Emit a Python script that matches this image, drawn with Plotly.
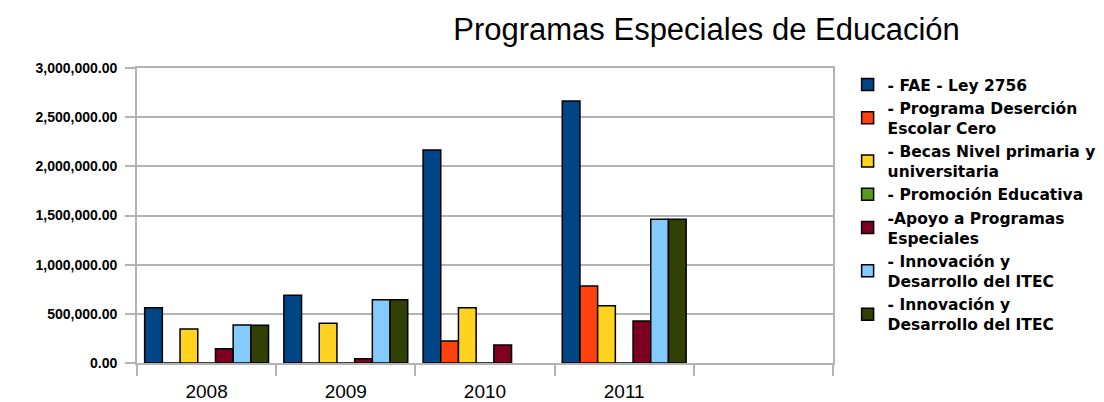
import plotly.graph_objects as go

years = ["2008", "2009", "2010", "2011", " "]

fae = [562000, 689000, 2167000, 2665000, None]
desercion = [0, 0, 224000, 783000, None]
becas = [345000, 404000, 563000, 583000, None]
promocion = [0, 0, 0, 0, None]
apoyo = [145000, 44000, 183000, 427000, None]
innovacion_a = [387000, 644000, None, 1462000, None]
innovacion_b = [385000, 644000, None, 1462000, None]

series = [
    ("- FAE - Ley 2756", fae, "#004586"),
    ("- Programa Deserción<br>Escolar Cero", desercion, "#ff420e"),
    ("- Becas Nivel primaria y<br>universitaria", becas, "#ffd320"),
    ("- Promoción Educativa", promocion, "#579d1c"),
    ("-Apoyo a Programas<br>Especiales", apoyo, "#7e0021"),
    ("- Innovación y<br>Desarrollo del ITEC", innovacion_a, "#83caff"),
    ("- Innovación y<br>Desarrollo del ITEC", innovacion_b, "#314004"),
]

fig = go.Figure()
for name, vals, color in series:
    fig.add_trace(go.Bar(x=years, y=vals, name=name,
                         marker=dict(color=color, line=dict(color="black", width=1.5))))

grid = "#b3b3b3"
fig.update_layout(
    width=1104, height=402,
    paper_bgcolor="white", plot_bgcolor="white",
    margin=dict(l=137, r=271, t=68, b=39, autoexpand=False),
    barmode="group", bargap=0.11, bargroupgap=0,
    font=dict(family="Liberation Sans, Arial, sans-serif", color="black"),
    title=dict(text="Programas Especiales de Educación", x=0.640, xanchor="center",
               y=0.9286, yanchor="middle", font=dict(size=31, color="black")),
    legend=dict(x=1.021, xanchor="left", y=1.0, yanchor="top",
                font=dict(family="DejaVu Sans, sans-serif", size=15.5, weight="bold"),
                tracegroupgap=0, traceorder="normal", itemwidth=30),
    showlegend=True,
)
fig.update_xaxes(type="category", categoryorder="array", categoryarray=years,
                 range=[-0.5, 4.5], tickson="boundaries", ticks="outside", ticklen=11,
                 tickcolor=grid, tickwidth=1.8, showline=True, linecolor=grid, linewidth=1.8,
                 mirror=True, showgrid=False, tickfont=dict(size=19), ticklabelstandoff=10,
                 automargin=False)
fig.update_yaxes(range=[0, 3000000], dtick=500000, tickformat=",.2f", ticks="outside",
                 ticklen=10, tickcolor=grid, tickwidth=1.8, showline=True, linecolor=grid,
                 linewidth=1.8, mirror=True, gridcolor=grid, gridwidth=1.8,
                 zeroline=False, tickfont=dict(size=14, weight="bold"),
                 ticklabelstandoff=5, automargin=False)

fig.write_html("out.html", config={"displayModeBar": False},
               post_script="document.body.style.margin='0';")
